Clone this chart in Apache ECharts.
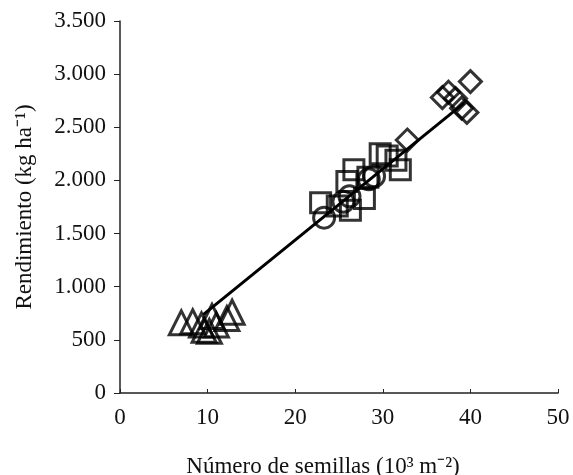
<!DOCTYPE html>
<html>
<head>
<meta charset="utf-8">
<script src="https://cdn.jsdelivr.net/npm/echarts@6/dist/echarts.min.js"></script>
<style>
  html, body { margin: 0; padding: 0; background: #fff; }
  #chart { width: 573px; height: 475px; }
</style>
</head>
<body>
<div id="chart"></div>
<script>
// readings from the picture (x: seeds 10^3 m-2, y: kg ha-1)
const triangles = [[7.0, 660], [8.3, 670], [9.3, 640], [9.6, 590], [10.2, 580], [10.5, 720], [11.0, 640], [12.2, 700], [12.8, 760]]
const squares = [[22.9, 1790], [24.8, 1760], [25.9, 1990], [26.3, 1720], [26.7, 2100], [27.9, 1830], [28.3, 2030], [29.7, 2250], [30.5, 2230], [31.5, 2190], [32.0, 2100]]
const circles = [[23.3, 1650], [25.5, 1800], [26.2, 1850], [28.4, 2010], [29.0, 2040]]
const diamonds = [[32.8, 2380], [36.8, 2780], [37.5, 2830], [38.3, 2770], [39.0, 2680], [39.6, 2640], [40.0, 2930]]
const fitLine = [[9.5, 737], [39.3, 2730]]

const xTicks = [0, 10, 20, 30, 40, 50]
const yTicks = [0, 500, 1000, 1500, 2000, 2500, 3000, 3500]

const font = 'Liberation Serif'
const chart = echarts.init(document.getElementById('chart'))

function marker(name, symbol, size, data) {
  return {
    name,
    type: 'scatter',
    symbol,
    symbolSize: size,
    data,
    itemStyle: { color: 'rgba(0,0,0,0)', borderColor: '#000', borderWidth: 3 },
    emphasis: { disabled: true },
    z: 2,
  }
}

chart.setOption({
  animation: false,
  grid: { left: 120, right: 15, top: 21, bottom: 82, containLabel: false, outerBoundsMode: 'none' },
  xAxis: {
    type: 'value',
    min: xTicks[0],
    max: xTicks[xTicks.length - 1],
    interval: 10,
    name: 'Número de semillas (10³ m⁻²)',
    nameLocation: 'middle',
    nameGap: 62,
    nameTextStyle: { fontFamily: font, fontSize: 23, color: '#111', padding: [0, 32, 0, 0] },
    axisLine: { lineStyle: { color: '#222', width: 1.5 } },
    axisTick: { inside: true, length: 4, lineStyle: { color: '#222' } },
    axisLabel: { fontFamily: font, fontSize: 23, color: '#111', margin: 13 },
    splitLine: { show: false },
  },
  yAxis: {
    type: 'value',
    min: yTicks[0],
    max: yTicks[yTicks.length - 1],
    interval: 500,
    name: 'Rendimiento (kg ha⁻¹)',
    nameLocation: 'middle',
    nameRotate: 90,
    nameGap: 84,
    nameTextStyle: { fontFamily: font, fontSize: 23, color: '#111' },
    axisLine: { show: true, lineStyle: { color: '#222', width: 1.5 } },
    axisTick: { show: true, length: 6, lineStyle: { color: '#222' } },
    axisLabel: {
      fontFamily: font, fontSize: 23, color: '#111', margin: 14,
      formatter: v => v.toLocaleString('de-DE'),
    },
    splitLine: { show: false },
  },
  series: [
    marker('triangle', 'triangle', 24, triangles),
    marker('square', 'rect', 20, squares),
    marker('circle', 'circle', 21, circles),
    marker('diamond', 'diamond', 22, diamonds),
    {
      name: 'fit',
      type: 'line',
      data: fitLine,
      symbol: 'none',
      lineStyle: { color: '#000', width: 3 },
      z: 3,
    },
  ],
})
</script>
</body>
</html>
